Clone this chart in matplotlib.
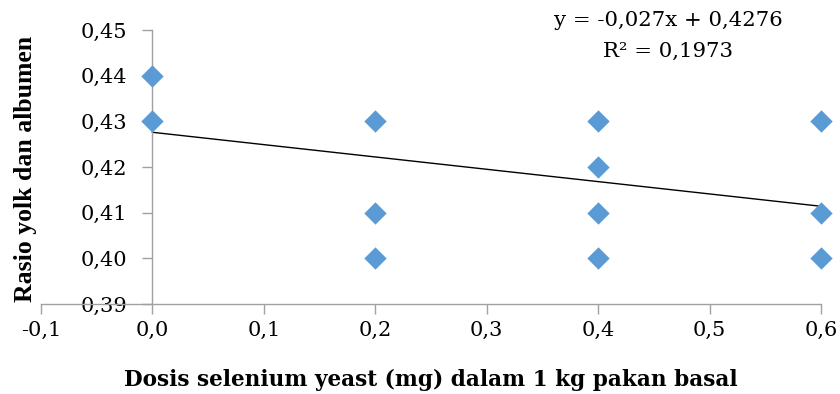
import matplotlib
matplotlib.use("Agg")
import matplotlib.pyplot as plt
import numpy as np

# Data
dose = [0.0, 0.0, 0.2, 0.2, 0.2, 0.4, 0.4, 0.4, 0.4, 0.6, 0.6, 0.6]
ratio = [0.44, 0.43, 0.43, 0.41, 0.40, 0.43, 0.42, 0.41, 0.40, 0.43, 0.41, 0.40]
slope = -0.027
intercept = 0.4276
r2 = 0.1973
x_ticks = [-0.1, 0.0, 0.1, 0.2, 0.3, 0.4, 0.5, 0.6]
y_ticks = [0.39, 0.40, 0.41, 0.42, 0.43, 0.44, 0.45]

plt.rcParams['font.family'] = ['DejaVu Serif', 'Liberation Serif']

fig = plt.figure(figsize=(8.4, 3.94), dpi=100)
ax = fig.add_axes([41/840, 1-304/394, (821-41)/840, (304-30)/394])

ax.scatter(dose, ratio, marker='D', s=130, color='#5B9BD5', zorder=3, clip_on=False, linewidths=0)
xl = np.array([0.0, 0.6])
ax.plot(xl, slope*xl + intercept, color='black', lw=1.0, zorder=2)

for s in ['top', 'right']:
    ax.spines[s].set_visible(False)
ax.spines['left'].set_position(('data', 0.0))
for s in ['left', 'bottom']:
    ax.spines[s].set_color('#A0A0A0')
    ax.spines[s].set_linewidth(1.0)

ax.set_xlim(-0.1, 0.6)
ax.set_ylim(0.39, 0.45)
ax.set_xticks(x_ticks)
ax.set_yticks(y_ticks)
ax.set_xticklabels([f"{v:.1f}".replace('.', ',') for v in x_ticks])
ax.set_yticklabels([f"{v:.2f}".replace('.', ',') for v in y_ticks])
ax.tick_params(axis='both', direction='out', length=7, color='#A0A0A0', width=1.0,
               labelsize=15, labelcolor='black')
ax.tick_params(axis='x', pad=5)
ax.tick_params(axis='y', pad=11)

fig.text(431/840, 1-380/394, 'Dosis selenium yeast (mg) dalam 1 kg pakan basal',
         fontsize=15.6, fontweight='bold', ha='center', va='center')
fig.text(26/840, 1-169/394, 'Rasio yolk dan albumen', rotation=90, fontsize=18.5, fontweight='bold',
         family='Liberation Serif', ha='center', va='center')

fig.text(668/840, 1-21/394, 'y = -0,027x + 0,4276', fontsize=15.3, ha='center', va='center')
fig.text(668/840, 1-51/394, 'R² = 0,1973', fontsize=15.3, ha='center', va='center')

fig.savefig('out.png', dpi=100)
